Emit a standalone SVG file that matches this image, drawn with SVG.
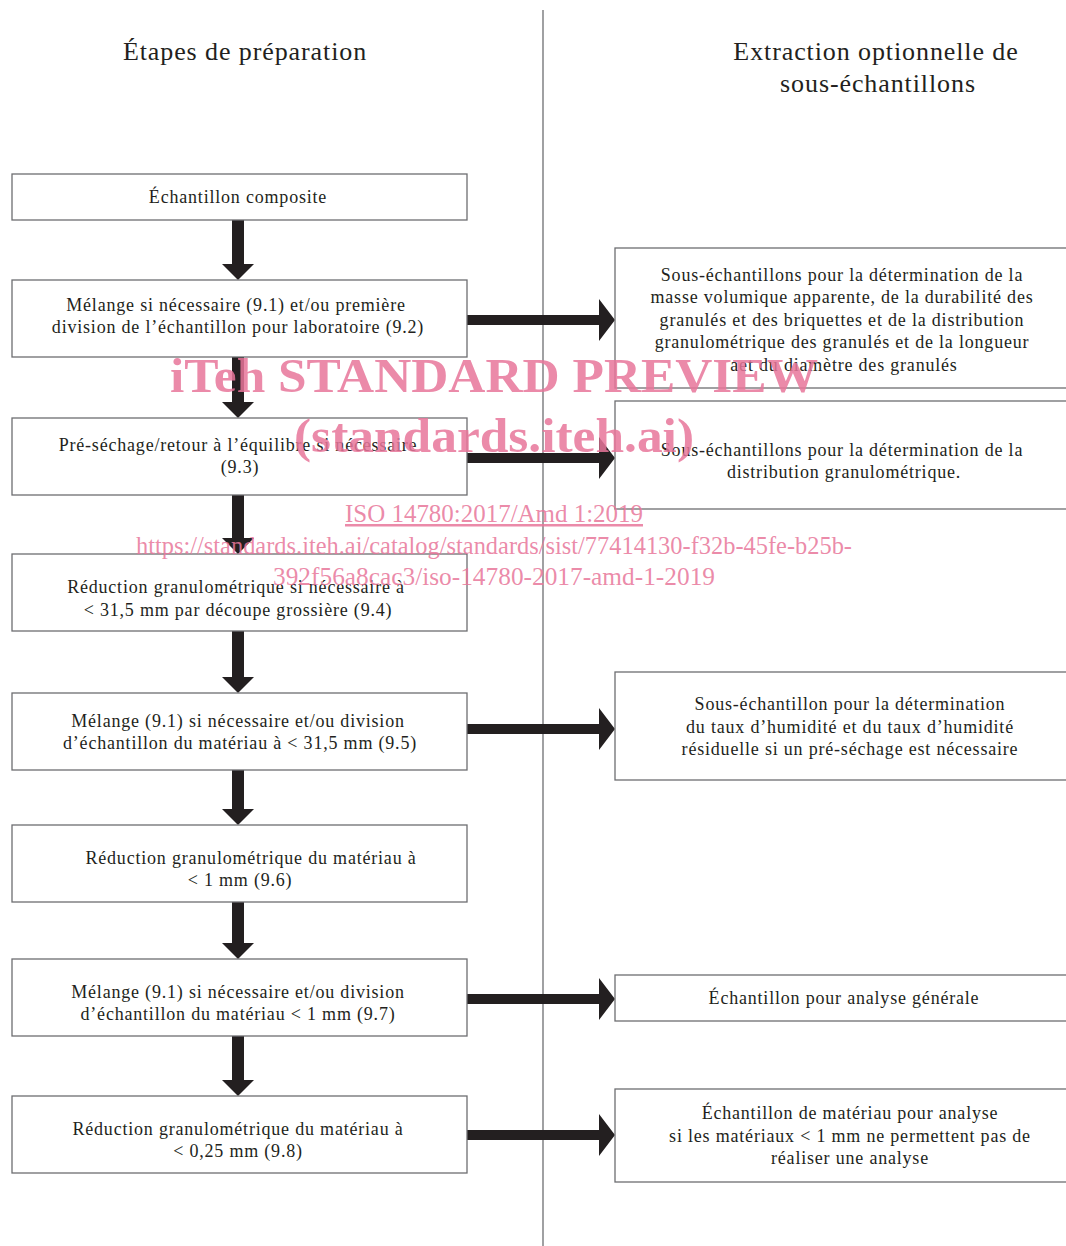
<svg xmlns="http://www.w3.org/2000/svg" width="1066" height="1246" viewBox="0 0 1066 1246">
<style>
.box{fill:#fff;stroke:#6d6e71;stroke-width:1.3}
.t{font-family:"Liberation Serif",serif;font-size:18px;letter-spacing:0.8px;fill:#231f20;text-anchor:middle}
.h{font-family:"Liberation Serif",serif;font-size:26px;letter-spacing:0.9px;fill:#231f20;text-anchor:middle}
.arr{fill:#231f20}
.wm{font-family:"Liberation Serif",serif;fill:#e8769a;fill-opacity:0.85;text-anchor:middle}
</style>
<rect width="1066" height="1246" fill="#fff"/>
<line x1="543" y1="10" x2="543" y2="1246" stroke="#6d6e71" stroke-width="1.3"/>
<text class="h" x="245" y="60">Étapes de préparation</text>
<text class="h" x="876" y="60">Extraction optionnelle de</text>
<text class="h" x="878" y="92">sous-échantillons</text>

<g id="connectors">
<path class="arr" d="M232,220h12v44h10l-16,16l-16,-16h10z"/>
<path class="arr" d="M232,357h12v45h10l-16,16l-16,-16h10z"/>
<path class="arr" d="M232,495h12v43h10l-16,16l-16,-16h10z"/>
<path class="arr" d="M232,631h12v46h10l-16,16l-16,-16h10z"/>
<path class="arr" d="M232,770h12v39h10l-16,16l-16,-16h10z"/>
<path class="arr" d="M232,902h12v41h10l-16,16l-16,-16h10z"/>
<path class="arr" d="M232,1036h12v44h10l-16,16l-16,-16h10z"/>
<path class="arr" d="M467,315h132v-16l16,21l-16,21v-16h-132z"/>
<path class="arr" d="M467,453h132v-16l16,21l-16,21v-16h-132z"/>
<path class="arr" d="M467,724h132v-16l16,21l-16,21v-16h-132z"/>
<path class="arr" d="M467,994h132v-16l16,21l-16,21v-16h-132z"/>
<path class="arr" d="M467,1130h132v-16l16,21l-16,21v-16h-132z"/>
</g>

<g id="n1"><rect class="box" x="12" y="174" width="455" height="46"/>
<text class="t" x="238" y="203">Échantillon composite</text></g>
<g id="n2"><rect class="box" x="12" y="280" width="455" height="77"/>
<text class="t" x="236" y="311">Mélange si nécessaire (9.1) et/ou première</text>
<text class="t" x="238" y="333">division de l’échantillon pour laboratoire (9.2)</text></g>
<g id="n3"><rect class="box" x="12" y="418" width="455" height="77"/>
<text class="t" x="238" y="451">Pré-séchage/retour à l’équilibre si nécessaire</text>
<text class="t" x="240" y="473">(9.3)</text></g>
<g id="n4"><rect class="box" x="12" y="554" width="455" height="77"/>
<text class="t" x="236" y="593">Réduction granulométrique si nécessaire à</text>
<text class="t" x="238" y="616">&lt; 31,5 mm par découpe grossière (9.4)</text></g>
<g id="n5"><rect class="box" x="12" y="693" width="455" height="77"/>
<text class="t" x="238" y="727">Mélange (9.1) si nécessaire et/ou division</text>
<text class="t" x="240" y="749">d’échantillon du matériau à &lt; 31,5 mm (9.5)</text></g>
<g id="n6"><rect class="box" x="12" y="825" width="455" height="77"/>
<text class="t" x="251" y="864">Réduction granulométrique du  matériau à</text>
<text class="t" x="240" y="886">&lt; 1 mm (9.6)</text></g>
<g id="n7"><rect class="box" x="12" y="959" width="455" height="77"/>
<text class="t" x="238" y="998">Mélange (9.1) si nécessaire et/ou division</text>
<text class="t" x="238" y="1020">d’échantillon du matériau &lt; 1 mm  (9.7)</text></g>
<g id="n8"><rect class="box" x="12" y="1096" width="455" height="77"/>
<text class="t" x="238" y="1135">Réduction granulométrique du matériau à</text>
<text class="t" x="238" y="1157">&lt; 0,25 mm (9.8)</text></g>

<g id="r1"><rect class="box" x="615" y="248" width="460" height="140"/>
<text class="t" x="842" y="281">Sous-échantillons pour la détermination de la</text>
<text class="t" x="842" y="303">masse volumique apparente, de la durabilité des</text>
<text class="t" x="842" y="326">granulés et des briquettes et de la distribution</text>
<text class="t" x="842" y="348">granulométrique des granulés et de la longueur</text>
<text class="t" x="844" y="371">aet du diamètre des granulés</text></g>
<g id="r2"><rect class="box" x="615" y="401" width="460" height="108"/>
<text class="t" x="842" y="456">Sous-échantillons pour la détermination de la</text>
<text class="t" x="844" y="478">distribution granulométrique.</text></g>
<g id="r3"><rect class="box" x="615" y="672" width="460" height="108"/>
<text class="t" x="850" y="710">Sous-échantillon pour la détermination</text>
<text class="t" x="850" y="733">du taux d’humidité et du taux d’humidité</text>
<text class="t" x="850" y="755">résiduelle si un pré-séchage est nécessaire</text></g>
<g id="r4"><rect class="box" x="615" y="975" width="460" height="46"/>
<text class="t" x="844" y="1004">Échantillon pour analyse générale</text></g>
<g id="r5"><rect class="box" x="615" y="1089" width="460" height="93"/>
<text class="t" x="850" y="1119">Échantillon de matériau pour analyse</text>
<text class="t" x="850" y="1142">si les matériaux &lt; 1 mm ne permettent pas de</text>
<text class="t" x="850" y="1164">réaliser une analyse</text></g>

<g id="watermark">
<text class="wm" x="494" y="392" font-size="48" font-weight="bold" textLength="648" lengthAdjust="spacingAndGlyphs">iTeh STANDARD PREVIEW</text>
<text class="wm" x="494" y="452" font-size="48" font-weight="bold" textLength="400" lengthAdjust="spacingAndGlyphs">(standards.iteh.ai)</text>
<text class="wm" x="494" y="522" font-size="25" textLength="298" lengthAdjust="spacingAndGlyphs" text-decoration="underline">ISO 14780:2017/Amd 1:2019</text>
<text class="wm" x="494" y="554" font-size="25" textLength="716" lengthAdjust="spacingAndGlyphs">https://standards.iteh.ai/catalog/standards/sist/77414130-f32b-45fe-b25b-</text>
<text class="wm" x="494" y="585" font-size="25" textLength="442" lengthAdjust="spacingAndGlyphs">392f56a8cac3/iso-14780-2017-amd-1-2019</text>
</g>
</svg>
